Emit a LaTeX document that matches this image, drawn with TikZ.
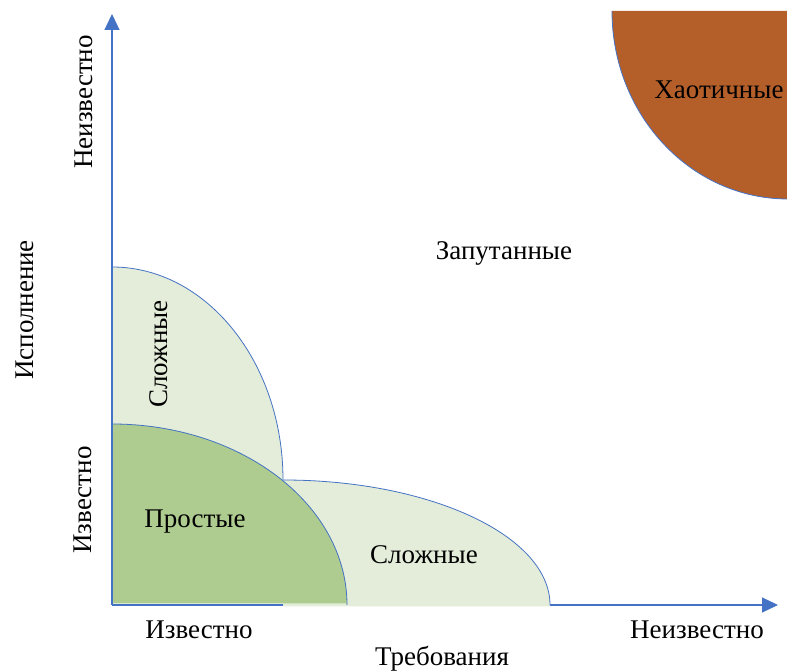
\documentclass[tikz,border=0pt]{standalone}
\usepackage{fontspec}
\setmainfont{Liberation Serif}
\usetikzlibrary{arrows.meta}
\definecolor{axisblue}{HTML}{4472C4}
\definecolor{lightgreen}{HTML}{E3EDD9}
\definecolor{simplegreen}{HTML}{AECC8F}
\definecolor{chaosbrown}{HTML}{B45F2A}
\begin{document}
\begin{tikzpicture}[x=1pt,y=1pt,
  lbl/.style={font=\fontsize{27}{30}\selectfont, inner sep=0pt, text=black},
  axisline/.style={draw=axisblue, line width=1.2pt, -{Triangle[length=16pt,width=15pt]}},
  rim/.style={draw=axisblue, line width=0.8pt}]
\useasboundingbox (0,0) rectangle (787,671);
\fill[white] (0,0) rectangle (787,671);

% axes end points
\coordinate (O) at (112,66);
\coordinate (ytop) at (112,657);
\coordinate (xend) at (778,66);

% horizontal axis (partly hidden by the regions)
\draw[axisline] (O) -- (xend);

% "complex" region along the requirements axis
\fill[lightgreen] (283,64.5) -- (550,64.5) -- (550,66)
  arc[start angle=0,end angle=90,x radius=267,y radius=125] -- cycle;
\draw[rim] (550,66) arc[start angle=0,end angle=90,x radius=267,y radius=125];

% "complex" region along the execution axis
\fill[lightgreen] (112,67.5) -- (283,67.5) -- (283,191)
  arc[start angle=0,end angle=90,x radius=171,y radius=213] -- cycle;
\draw[rim] (283,191) arc[start angle=0,end angle=90,x radius=171,y radius=213];

% "simple" region
\fill[simplegreen] (112,67.5) -- (347,67.5) -- (347,66)
  arc[start angle=0,end angle=90,x radius=235,y radius=181] -- cycle;
\draw[rim] (347,67.5) -- (347,66) arc[start angle=0,end angle=90,x radius=235,y radius=181];

% "chaotic" region in the corner
\begin{scope}
  \clip (0,0) rectangle (787,671);
  \fill[chaosbrown] (788,660) -- (612,660)
    arc[start angle=180,end angle=270,x radius=176,y radius=188] -- cycle;
  \draw[rim] (612,660) arc[start angle=180,end angle=270,x radius=176,y radius=188];
\end{scope}

% vertical axis
\draw[axisline] (O) -- (ytop);

% region labels
\node[lbl] (chaos) at (719,581) {Хаотичные};
\node[lbl] (tangled) at (504,418) {Запутанные};
\node[lbl, rotate=90] (complexv) at (159,317) {Сложные};
\node[lbl] (simple) at (195,149) {Простые};
\node[lbl] (complexh) at (424,116) {Сложные};

% axis labels
\node[lbl] (xknown) at (199,41) {Известно};
\node[lbl] (xunknown) at (697,41) {Неизвестно};
\node[lbl] (xtitle) at (442,12) {Требования};
\node[lbl, rotate=90] (yunknown) at (84,569) {Неизвестно};
\node[lbl, rotate=90] (ytitle) at (25,361) {Исполнение};
\node[lbl, rotate=90] (yknown) at (83,171) {Известно};
\end{tikzpicture}
\end{document}
